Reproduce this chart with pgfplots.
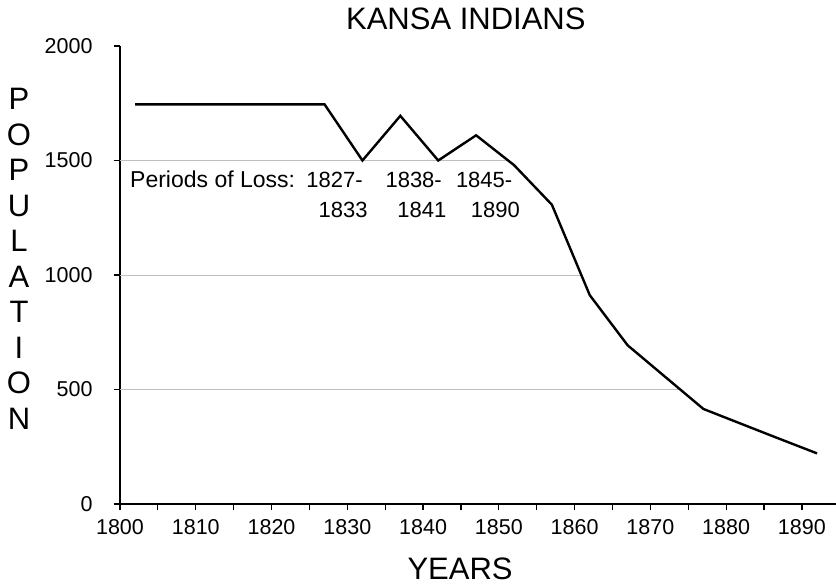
\documentclass[border=0pt]{standalone}
\usepackage{fontspec}
\setmainfont{Liberation Sans}
\usepackage{pgfplots}
\pgfplotsset{compat=1.18}
\newcommand\tickfont{\fontsize{21.5bp}{25bp}\selectfont}
\newcommand\annfont{\fontsize{22bp}{26bp}\selectfont}
\newcommand\lossfont{\fontsize{23bp}{26bp}\selectfont}
\newcommand\bigfont{\fontsize{31bp}{35.5bp}\selectfont}
\begin{document}
\begin{tikzpicture}
\path[use as bounding box] (-120bp,-80bp) rectangle (716bp,504bp);
\begin{axis}[
  at={(0,0)}, anchor=south west,
  scale only axis, width=716bp, height=458bp,
  xmin=1800, xmax=1894.5, ymin=0, ymax=2000,
  axis lines*=left,
  axis line style={line width=1.6bp, black},
  xtick={1800,1810,...,1890},
  minor xtick={1805,1815,...,1885},
  ytick={0,500,1000,1500,2000},
  tick align=outside,
  major tick length=6bp, minor tick length=6bp,
  tick style={line width=1.2bp, black},
  /pgf/number format/assume math mode=true,
  /pgf/number format/1000 sep={},
  tick label style={font=\tickfont},
  xticklabel style={yshift=-6bp},
  yticklabel style={xshift=-18bp},
  title={KANSA INDIANS},
  title style={font=\bigfont, at={(axis description cs:0.483,1)}, anchor=base, yshift=11bp},
  xlabel={YEARS},
  xlabel style={font=\bigfont, at={(axis description cs:0.475,0)}, anchor=base, yshift=-75bp},
  ylabel={P\\O\\P\\U\\L\\A\\T\\I\\O\\N},
  ylabel style={font=\bigfont, rotate=-90, align=center, at={(axis description cs:0,0.535)}, anchor=center, xshift=-101bp},
  clip=false,
]
% partial gridlines (they stop where they meet the curve)
\addplot[gray!50, line width=0.9bp] coordinates {(1800,1500) (1851.2,1500)};
\addplot[gray!50, line width=0.9bp] coordinates {(1800,1000) (1860.9,1000)};
\addplot[gray!50, line width=0.9bp] coordinates {(1800,500) (1873.9,500)};
% population
\addplot[black, line width=2.4bp, line join=miter] coordinates {
  (1802,1745) (1827,1745) (1832,1500) (1837,1695) (1842,1500)
  (1847,1610) (1852,1480) (1857,1307) (1862,912) (1867,693)
  (1877,415) (1886,298) (1892,221)
};
\node[anchor=base west, font=\lossfont, inner sep=0pt] at (axis cs:1801.32,1384) {Periods of Loss:};
\node[anchor=base east, font=\annfont, inner sep=0pt] at (axis cs:1832.06,1384) {1827-};
\node[anchor=base east, font=\annfont, inner sep=0pt] at (axis cs:1832.7,1253) {1833};
\node[anchor=base east, font=\annfont, inner sep=0pt] at (axis cs:1842.5,1384) {1838-};
\node[anchor=base east, font=\annfont, inner sep=0pt] at (axis cs:1843.1,1253) {1841};
\node[anchor=base east, font=\annfont, inner sep=0pt] at (axis cs:1851.8,1384) {1845-};
\node[anchor=base east, font=\annfont, inner sep=0pt] at (axis cs:1852.8,1253) {1890};
\end{axis}
\end{tikzpicture}
\end{document}
